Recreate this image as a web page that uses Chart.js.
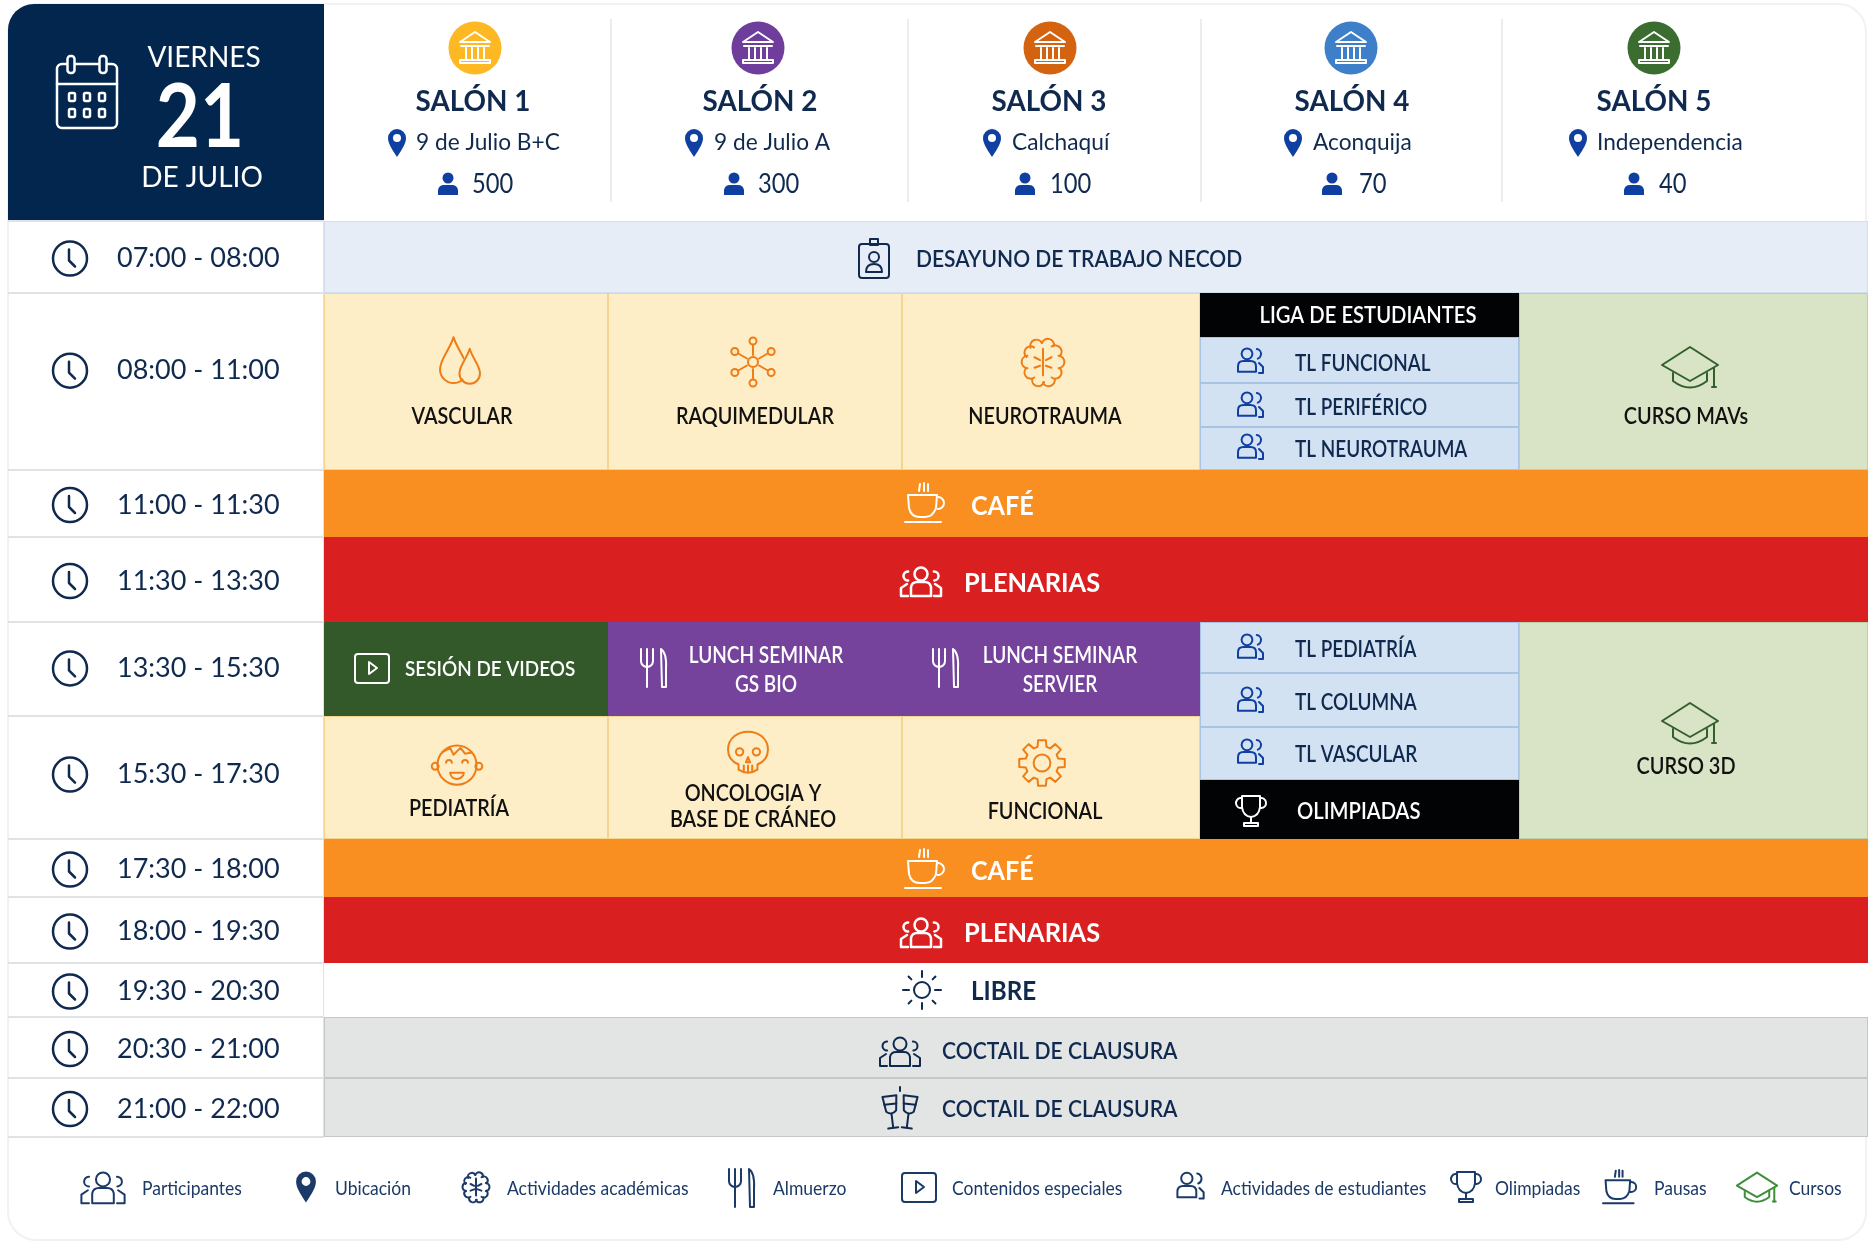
<!DOCTYPE html>
<html lang="es">
<head>
<meta charset="utf-8">
<title>Viernes 21 de julio</title>
<script src="https://cdn.jsdelivr.net/npm/chart.js@4/dist/chart.umd.js"></script>
<style>
  html, body { margin: 0; background: #fff; }
  canvas { display: block; }
</style>
</head>
<body>
<canvas id="agenda" width="1868" height="1241"></canvas>
<script>
// Rooms and time rows
const rooms = ['SALÓN 1', 'SALÓN 2', 'SALÓN 3', 'SALÓN 4', 'SALÓN 5'];
const roomPlaces = ['9 de Julio B+C', '9 de Julio A', 'Calchaquí', 'Aconquija', 'Independencia'];
const roomCapacity = [500, 300, 100, 70, 40];
const rowTimes = ['07:00 - 08:00', '08:00 - 11:00', '11:00 - 11:30', '11:30 - 13:30', '13:30 - 15:30', '15:30 - 17:30',
  '17:30 - 18:00', '18:00 - 19:30', '19:30 - 20:30', '20:30 - 21:00', '21:00 - 22:00'];
const rowSlots = [0, 1, 5, 6, 7, 9, 12, 13, 14, 15, 16, 17];
const rowLabelSlots = [0.5, 2.7, 5.5, 6.5, 7.88, 10.87, 12.5, 13.5, 14.5, 15.5, 16.5];

// Schedule blocks, one entry per block: room span and slot span
const cellNames = ['DESAYUNO DE TRABAJO NECOD', 'VASCULAR', 'RAQUIMEDULAR', 'NEUROTRAUMA', 'LIGA DE ESTUDIANTES',
  'TL FUNCIONAL', 'TL PERIFÉRICO', 'TL NEUROTRAUMA', 'CURSO MAVs', 'CAFÉ', 'PLENARIAS', 'SESIÓN DE VIDEOS',
  'LUNCH SEMINAR\nGS BIO', 'LUNCH SEMINAR\nSERVIER', 'TL PEDIATRÍA', 'TL COLUMNA', 'TL VASCULAR', 'OLIMPIADAS',
  'CURSO 3D', 'PEDIATRÍA', 'ONCOLOGIA Y\nBASE DE CRÁNEO', 'FUNCIONAL', 'CAFÉ', 'PLENARIAS', 'LIBRE',
  'COCTAIL DE CLAUSURA', 'COCTAIL DE CLAUSURA'];
const cellRooms = [[0, 5], [0, 1], [1, 2], [2, 3], [3, 4], [3, 4], [3, 4], [3, 4], [4, 5], [0, 5], [0, 5], [0, 1],
  [1, 2], [2, 3], [3, 4], [3, 4], [3, 4], [3, 4], [4, 5], [0, 1], [1, 2], [2, 3], [0, 5], [0, 5], [0, 5], [0, 5], [0, 5]];
const cellSlots = [[0, 1], [1, 5], [1, 5], [1, 5], [1, 2], [2, 3], [3, 4], [4, 5], [1, 5], [5, 6], [6, 7], [7, 9],
  [7, 9], [7, 9], [7, 8], [8, 10], [10, 11], [11, 12], [7, 12], [9, 12], [9, 12], [9, 12], [12, 13], [13, 14],
  [14, 15], [15, 16], [16, 17]];
const cellKinds = ['breakfast', 'academic', 'academic', 'academic', 'black', 'student', 'student', 'student', 'course',
  'coffee', 'plenary', 'video', 'lunch', 'lunch', 'student', 'student', 'student', 'black', 'course', 'academic',
  'academic', 'academic', 'coffee', 'plenary', 'free', 'closing', 'closing'];

const legendLabels = ['Participantes', 'Ubicación', 'Actividades académicas', 'Almuerzo', 'Contenidos especiales',
  'Actividades de estudiantes', 'Olimpiadas', 'Pausas', 'Cursos'];

// Look of each kind of block
const NAVY = '#10294f';
const BLUE = '#0f3fa0';
const kindStyle = {
  breakfast: { fill: '#e6edf7', line: '#d3deee', text: NAVY, font: '600 23px Lato', squeeze: 0.913 },
  academic: { fill: '#fdeec8', line: '#f5d48f', text: '#111', font: '600 23px Lato', squeeze: 0.86 },
  black: { fill: '#020304', line: '#020304', text: '#fff', font: '600 22px Lato', squeeze: 0.92 },
  student: { fill: '#d3e2f2', line: '#a9c4e2', text: NAVY, font: '600 22px Lato', squeeze: 0.86 },
  course: { fill: '#d9e3c6', line: '#bfd0a8', text: '#111', font: '600 23px Lato', squeeze: 0.865 },
  coffee: { fill: '#fa8f21', line: '#fa8f21', text: '#fff', font: '700 27px Lato', squeeze: 0.93 },
  plenary: { fill: '#d91f1f', line: '#d91f1f', text: '#fff', font: '700 27px Lato', squeeze: 0.94 },
  video: { fill: '#33582a', line: '#33582a', text: '#fff', font: '600 21px Lato', squeeze: 0.9 },
  lunch: { fill: '#75439c', line: '#75439c', text: '#fff', font: '600 22px Lato', squeeze: 0.865 },
  free: { fill: '#ffffff', line: '#ffffff', text: NAVY, font: '700 26px Lato', squeeze: 0.93 },
  closing: { fill: '#e3e4e4', line: '#c6c7c7', text: NAVY, font: '600 23px Lato', squeeze: 0.917 }
};

// Where icon and text sit inside each block (same order as cellNames)
const cellLayout = [
  { icon: 'badge', ix: 874, iy: 259, tx: 916, ty: 258.5, align: 'left', color: NAVY },
  { icon: 'drops', ix: 460, iy: 362, tx: 462, ty: 415, size: 1.08 },
  { icon: 'atom', ix: 753, iy: 362, tx: 755, ty: 415 },
  { icon: 'brain', ix: 1043, iy: 362, tx: 1045, ty: 415, size: 0.95 },
  { tx: 1368, ty: 314 },
  { icon: 'pair', ix: 1250, iy: 362, tx: 1295, ty: 362.5, align: 'left', color: BLUE },
  { icon: 'pair', ix: 1250, iy: 406, tx: 1295, ty: 406.5, align: 'left', color: BLUE },
  { icon: 'pair', ix: 1250, iy: 448, tx: 1295, ty: 448.5, align: 'left', color: BLUE },
  { icon: 'cap', ix: 1690, iy: 367, tx: 1686, ty: 415, color: '#32602c' },
  { icon: 'coffee', ix: 925, iy: 503, tx: 971, ty: 505, align: 'left', color: '#fff' },
  { icon: 'group', ix: 921, iy: 581, tx: 964, ty: 582, align: 'left', color: '#fff', weight: 2.5 },
  { icon: 'play', ix: 372, iy: 668, tx: 405, ty: 668, align: 'left', color: '#fff' },
  { icon: 'cutlery', ix: 653, iy: 667, tx: 766, ty: 654, color: '#fff' },
  { icon: 'cutlery', ix: 945, iy: 667, tx: 1060, ty: 654, color: '#fff' },
  { icon: 'pair', ix: 1250, iy: 648, tx: 1295, ty: 648.5, align: 'left', color: BLUE },
  { icon: 'pair', ix: 1250, iy: 701, tx: 1295, ty: 701, align: 'left', color: BLUE },
  { icon: 'pair', ix: 1250, iy: 753, tx: 1295, ty: 753.5, align: 'left', color: BLUE },
  { icon: 'trophy', ix: 1251, iy: 811, tx: 1297, ty: 810, align: 'left', color: '#fff' },
  { icon: 'cap', ix: 1690, iy: 723, tx: 1686, ty: 765, color: '#32602c' },
  { icon: 'baby', ix: 457, iy: 764, tx: 459, ty: 807, size: 1.15 },
  { icon: 'skull', ix: 748, iy: 755, tx: 753, ty: 792, leading: 26, size: 1.05 },
  { icon: 'gear', ix: 1042, iy: 763, tx: 1045, ty: 810, size: 1.05 },
  { icon: 'coffee', ix: 925, iy: 869, tx: 971, ty: 869.5, align: 'left', color: '#fff' },
  { icon: 'group', ix: 921, iy: 932, tx: 964, ty: 932, align: 'left', color: '#fff', weight: 2.5 },
  { icon: 'sun', ix: 922, iy: 990, tx: 971, ty: 990, align: 'left', color: NAVY },
  { icon: 'group', ix: 900, iy: 1051, tx: 942, ty: 1050.5, align: 'left', color: NAVY },
  { icon: 'toast', ix: 900, iy: 1109, tx: 942, ty: 1108.5, align: 'left', color: NAVY }
];

// Header and legend placement
const roomCircleColors = ['#fdb823', '#6f3d9b', '#d4630f', '#3d7fc9', '#3a6d2f'];
const roomCenters = [475, 758, 1050, 1351, 1654];
const roomTitleX = [473, 760, 1049, 1352, 1654];
const roomPinX = [397, 694, 992, 1293, 1578];
const roomPlaceX = [416, 714, 1012, 1313, 1597];
const roomPersonX = [448, 734, 1025, 1332, 1634];
const roomCountX = [472, 758, 1050, 1359, 1659];
const roomDividers = [611, 908, 1201, 1502];
const legendIcons = ['group', 'pin', 'brain', 'cutlery', 'play', 'pair', 'trophy', 'coffee', 'cap'];
const legendIconSize = [1.08, 1.1, 0.6, 1, 1, 1.05, 1, 0.85, 0.72];
const legendIconX = [103, 306, 476, 741, 919, 1190, 1466, 1620, 1757];
const legendTextX = [142, 335, 507, 773, 952, 1221, 1495, 1654, 1789];

// Little line icons, all drawn around 0,0 in a box of about 40 units
function ring(c, x, y, r) { c.beginPath(); c.arc(x, y, r, 0, Math.PI * 2); c.stroke(); }
function poly(c, pts, close) {
  c.beginPath();
  pts.forEach((p, i) => i ? c.lineTo(p[0], p[1]) : c.moveTo(p[0], p[1]));
  if (close) c.closePath();
  c.stroke();
}
function bust(c, x, y, s) {
  ring(c, x, y - 8 * s, 6 * s);
  c.beginPath();
  c.moveTo(x - 10 * s, y + 12 * s);
  c.lineTo(x - 10 * s, y + 6 * s);
  c.quadraticCurveTo(x - 10 * s, y, x - 4 * s, y);
  c.lineTo(x + 4 * s, y);
  c.quadraticCurveTo(x + 10 * s, y, x + 10 * s, y + 6 * s);
  c.lineTo(x + 10 * s, y + 12 * s);
  c.closePath();
  c.stroke();
}
const icons = {
  clock(c) { ring(c, 0, 0, 17); poly(c, [[-1, -9], [-1, 2], [5, 8]]); },
  bank(c) {
    poly(c, [[-15, -6], [0, -16], [15, -6]], true);
    poly(c, [[-14, -2], [14, -2]]);
    [-9, -3, 3, 9].forEach(x => poly(c, [[x, 0], [x, 11]]));
    c.strokeRect(-15, 12, 30, 3);
  },
  pin(c) {
    c.beginPath();
    c.moveTo(0, 14);
    c.bezierCurveTo(-6, 5, -9, 0, -9, -5);
    c.arc(0, -5, 9, Math.PI, 0);
    c.bezierCurveTo(9, 0, 6, 5, 0, 14);
    c.closePath();
    c.arc(0, -5, 4, 0, Math.PI * 2, true);
    c.fill('evenodd');
  },
  person(c) {
    c.beginPath();
    c.arc(0, -6, 5.5, 0, Math.PI * 2);
    c.fill();
    c.beginPath();
    c.moveTo(-10, 11);
    c.lineTo(-10, 6);
    c.quadraticCurveTo(-9, 1, -4, 1);
    c.lineTo(4, 1);
    c.quadraticCurveTo(9, 1, 10, 6);
    c.lineTo(10, 11);
    c.closePath();
    c.fill();
  },
  calendar(c) {
    c.beginPath();
    c.roundRect(-30, -28, 60, 64, 5);
    c.stroke();
    poly(c, [[-30, -8], [30, -8]]);
    [-16, 16].forEach(x => {
      c.beginPath();
      c.roundRect(x - 3.5, -36, 7, 17, 3);
      c.fillStyle = '#03264f';
      c.fill();
      c.stroke();
    });
    [-15, 0, 15].forEach(x => [5, 21].forEach(y => {
      c.beginPath();
      c.roundRect(x - 3, y - 4, 6, 8, 1.5);
      c.stroke();
    }));
  },
  drops(c) {
    const drop = (x, y, s) => {
      c.beginPath();
      c.moveTo(x, y - 16 * s);
      c.bezierCurveTo(x + 3 * s, y - 6 * s, x + 10 * s, y, x + 10 * s, y + 8 * s);
      c.arc(x, y + 8 * s, 10 * s, 0, Math.PI);
      c.bezierCurveTo(x - 10 * s, y, x - 3 * s, y - 6 * s, x, y - 16 * s);
      c.stroke();
    };
    drop(-6, -3, 1.25);
    c.save();
    c.fillStyle = '#fdeec8';
    c.beginPath();
    c.moveTo(9, -14);
    c.bezierCurveTo(11, -7, 17, -1, 17, 8);
    c.arc(9, 10, 8.5, 0, Math.PI);
    c.bezierCurveTo(0, -1, 7, -7, 9, -14);
    c.fill();
    c.restore();
    drop(9, 3, 0.95);
  },
  atom(c) {
    ring(c, 0, 0, 5);
    for (let i = 0; i < 6; i++) {
      const a = i * Math.PI / 3 - Math.PI / 2;
      ring(c, Math.cos(a) * 21, Math.sin(a) * 21, 3.5);
      poly(c, [[Math.cos(a) * 7, Math.sin(a) * 7], [Math.cos(a) * 17, Math.sin(a) * 17]]);
    }
  },
  brain(c) {
    const lobes = [[-7, -17], [5, -18], [13, -11], [16, 0], [13, 11], [6, 19], [-5, 19], [-13, 11], [-16, 0], [-13, -10]];
    lobes.forEach(p => {
      c.beginPath();
      c.arc(p[0], p[1], 6.5, Math.atan2(p[1], p[0]) - 1.5, Math.atan2(p[1], p[0]) + 1.5);
      c.stroke();
    });
    poly(c, [[0, -14], [0, 14]]);
    poly(c, [[-9, -5], [-3, -2]]);
    poly(c, [[9, -5], [3, -2]]);
    poly(c, [[-9, 6], [-3, 4]]);
    poly(c, [[9, 6], [3, 4]]);
  },
  pair(c) {
    bust(c, -3, -1, 0.9);
    c.beginPath();
    c.arc(6, -8, 5, -1.4, 1.2);
    c.stroke();
    poly(c, [[9, 1], [13, 5], [13, 11], [9, 11]]);
  },
  group(c) {
    ring(c, 0, -7, 6.5);
    c.beginPath();
    c.moveTo(-10, 15);
    c.lineTo(-10, 6);
    c.quadraticCurveTo(-9, 1, -4, 1);
    c.lineTo(4, 1);
    c.quadraticCurveTo(9, 1, 10, 6);
    c.lineTo(10, 15);
    c.closePath();
    c.stroke();
    [-1, 1].forEach(d => {
      c.beginPath();
      c.arc(d * 13, -5, 4.5, d > 0 ? -1.6 : -1.5 + Math.PI - 0.1, d > 0 ? 1.5 : Math.PI + 1.6);
      c.stroke();
      poly(c, [[d * 14, 3], [d * 20, 7], [d * 20, 15], [d * 13, 15]]);
    });
  },
  cap(c) {
    poly(c, [[0, -20], [28, -2], [0, 14], [-28, -2]], true);
    c.beginPath();
    c.moveTo(-17, 6);
    c.lineTo(-17, 14);
    c.quadraticCurveTo(0, 27, 17, 14);
    c.lineTo(17, 6);
    c.stroke();
    poly(c, [[24, 1], [24, 20]]);
    poly(c, [[22, 20], [26, 20]]);
  },
  coffee(c) {
    poly(c, [[-5, -19], [-6, -12]]);
    poly(c, [[-1, -20], [-1, -12]]);
    poly(c, [[3, -19], [3, -12]]);
    c.beginPath();
    c.moveTo(-17, -8);
    c.lineTo(12, -8);
    c.lineTo(11, 5);
    c.quadraticCurveTo(8, 14, 0, 14);
    c.lineTo(-5, 14);
    c.quadraticCurveTo(-14, 14, -16, 5);
    c.closePath();
    c.stroke();
    c.beginPath();
    c.arc(13, 0, 6, -1.5, 1.7);
    c.stroke();
    poly(c, [[-20, 19], [16, 19]]);
  },
  play(c) {
    c.beginPath();
    c.roundRect(-17, -14, 34, 29, 3);
    c.stroke();
    poly(c, [[-3, -6], [5, 0], [-3, 6]], true);
  },
  cutlery(c) {
    poly(c, [[-12, -18], [-12, -6]]);
    poly(c, [[-6, -18], [-6, 20]]);
    poly(c, [[0, -18], [0, -6]]);
    c.beginPath();
    c.arc(-6, -6, 6, 0, Math.PI);
    c.stroke();
    c.beginPath();
    c.moveTo(8, -18);
    c.quadraticCurveTo(14, -14, 13, 2);
    c.lineTo(13, 20);
    c.lineTo(9, 20);
    c.closePath();
    c.stroke();
  },
  trophy(c) {
    c.beginPath();
    c.moveTo(-9, -15);
    c.lineTo(9, -15);
    c.lineTo(9, -4);
    c.quadraticCurveTo(8, 5, 0, 6);
    c.quadraticCurveTo(-8, 5, -9, -4);
    c.closePath();
    c.stroke();
    c.beginPath();
    c.arc(-10, -8, 5, 1.4, -1.4);
    c.stroke();
    c.beginPath();
    c.arc(10, -8, 5, -1.7, 1.7);
    c.stroke();
    poly(c, [[0, 6], [0, 12]]);
    c.strokeRect(-7, 12, 14, 3);
  },
  sun(c) {
    ring(c, 0, 0, 8);
    for (let i = 0; i < 8; i++) {
      const a = i * Math.PI / 4;
      const r = i % 2 ? 15 : 13;
      poly(c, [[Math.cos(a) * r, Math.sin(a) * r], [Math.cos(a) * 19, Math.sin(a) * 19]]);
    }
  },
  badge(c) {
    c.beginPath();
    c.roundRect(-15, -15, 30, 34, 3);
    c.stroke();
    c.strokeRect(-4, -20, 8, 6);
    ring(c, 0, -2, 5);
    c.beginPath();
    c.moveTo(-8, 13);
    c.quadraticCurveTo(-8, 5, 0, 5);
    c.quadraticCurveTo(8, 5, 8, 13);
    c.closePath();
    c.stroke();
  },
  toast(c) {
    [-1, 1].forEach(d => {
      c.save();
      c.rotate(d * 0.12);
      c.beginPath();
      c.moveTo(d * 9 - 7, -14);
      c.lineTo(d * 9 + 7, -14);
      c.lineTo(d * 9 + 5, 1);
      c.quadraticCurveTo(d * 9, 6, d * 9 - 5, 1);
      c.closePath();
      c.stroke();
      poly(c, [[d * 9, 4], [d * 9, 17]]);
      poly(c, [[d * 9 - 5, 18], [d * 9 + 5, 18]]);
      poly(c, [[d * 9 - 6, -6], [d * 9 + 6, -6]]);
      c.restore();
    });
    poly(c, [[0, -22], [0, -18]]);
  },
  baby(c) {
    ring(c, 0, 1, 17);
    ring(c, -19, 2, 3);
    ring(c, 19, 2, 3);
    c.beginPath();
    c.arc(0, 7, 6, 0.1, Math.PI - 0.1);
    c.closePath();
    c.stroke();
    c.beginPath();
    c.arc(-7, -1, 2.5, Math.PI, 0);
    c.stroke();
    c.beginPath();
    c.arc(7, -1, 2.5, Math.PI, 0);
    c.stroke();
    poly(c, [[-13, -10], [-6, -14], [-3, -8], [3, -14], [7, -9], [13, -10]]);
  },
  skull(c) {
    c.beginPath();
    c.moveTo(-9, 14);
    c.lineTo(-9, 9);
    c.quadraticCurveTo(-19, 5, -19, -5);
    c.bezierCurveTo(-19, -28, 19, -28, 19, -5);
    c.quadraticCurveTo(19, 5, 9, 9);
    c.lineTo(9, 14);
    c.quadraticCurveTo(0, 20, -9, 14);
    c.closePath();
    c.stroke();
    ring(c, -8, -3, 3.5);
    ring(c, 8, -3, 3.5);
    poly(c, [[0, 2], [-2, 7], [2, 7]], true);
    [-4, 0, 4].forEach(x => poly(c, [[x, 10], [x, 16]]));
  },
  gear(c) {
    ring(c, 0, 0, 8);
    c.beginPath();
    for (let i = 0; i < 8; i++) {
      const a = i * Math.PI / 4;
      [[-0.27, 16], [-0.17, 22], [0.17, 22], [0.27, 16]].forEach((p, j) => {
        const x = Math.cos(a + p[0]) * p[1];
        const y = Math.sin(a + p[0]) * p[1];
        (i === 0 && j === 0) ? c.moveTo(x, y) : c.lineTo(x, y);
      });
    }
    c.closePath();
    c.stroke();
  }
};

function drawIcon(c, name, x, y, color, lineWidth, scale) {
  c.save();
  c.translate(x, y);
  c.scale(scale || 1, scale || 1);
  c.strokeStyle = color;
  c.fillStyle = color;
  c.lineWidth = (lineWidth || 2) / (scale || 1);
  c.lineJoin = 'round';
  c.lineCap = 'round';
  icons[name](c);
  c.restore();
}

// Lato runs wider than the lettering here, so text can be narrowed a little
function drawText(c, text, x, y, font, color, align, squeeze) {
  c.save();
  c.translate(x, y + 1.5);
  c.scale(squeeze || 1, 1);
  c.font = font;
  c.fillStyle = color;
  c.textAlign = align || 'center';
  c.textBaseline = 'middle';
  c.fillText(text, 0, 0);
  c.restore();
}

// Scale with bands of unequal size, each unit of value crosses one band
class BandScale extends Chart.Scale {
  static id = 'band';
  static defaults = {};
  determineDataLimits() {
    this.min = 0;
    this.max = this.options.bands.length;
  }
  buildTicks() {
    return (this.options.tickValues || []).map(value => ({ value }));
  }
  getPixelForValue(value) {
    const bands = this.options.bands;
    const total = bands.reduce((a, b) => a + b, 0);
    const start = this.isHorizontal() ? this.left : this.top;
    const length = this.isHorizontal() ? this.width : this.height;
    let sum = 0;
    const whole = Math.min(Math.floor(value), bands.length);
    for (let i = 0; i < whole; i++) sum += bands[i];
    if (whole < bands.length) sum += (value - whole) * bands[whole];
    return start + sum / total * length;
  }
  getValueForPixel() {
    return 0;
  }
}

// Bars spanning both axes: a room range and a slot range
class BlockController extends Chart.BarController {
  static id = 'block';
  updateElements(bars, start, count, mode) {
    const meta = this._cachedMeta;
    const data = this.getDataset().data;
    for (let i = start; i < start + count; i++) {
      const left = meta.xScale.getPixelForValue(data[i].x[0]);
      const right = meta.xScale.getPixelForValue(data[i].x[1]);
      const top = meta.yScale.getPixelForValue(data[i].y[0]);
      const bottom = meta.yScale.getPixelForValue(data[i].y[1]);
      this.updateElement(bars[i], i, {
        horizontal: false,
        x: (left + right) / 2,
        y: top,
        base: bottom,
        width: right - left,
        height: bottom - top,
        inflateAmount: 0,
        enableBorderRadius: false,
        borderSkipped: { top: false, bottom: false, left: false, right: false },
        options: this.resolveDataElementOptions(i, mode)
      }, mode);
    }
  }
}

Chart.register(BandScale, BlockController);

// Card, date panel, room header and row rules go under the bars
const backdropPlugin = {
  id: 'backdrop',
  beforeDraw(chart) {
    const c = chart.ctx;
    const y = chart.scales.y;
    c.save();
    c.fillStyle = '#fff';
    c.fillRect(0, 0, 1868, 1241);
    c.strokeStyle = '#f1f2f4';
    c.lineWidth = 2;
    c.beginPath();
    c.roundRect(8, 4, 1858, 1236, 28);
    c.stroke();

    c.fillStyle = '#03264f';
    c.beginPath();
    c.roundRect(8, 4, 316, 217, [26, 0, 0, 0]);
    c.fill();
    drawIcon(c, 'calendar', 87, 92, '#fff', 2.5);
    drawText(c, 'VIERNES', 204, 56, '400 28px Lato', '#fff');
    drawText(c, '21', 200, 117, '700 88px Lato', '#fff', 'center', 0.865);
    drawText(c, 'DE JULIO', 202, 176, '400 28px Lato', '#fff');

    rooms.forEach((room, i) => {
      c.fillStyle = roomCircleColors[i];
      c.beginPath();
      c.arc(roomCenters[i], 48, 26.5, 0, Math.PI * 2);
      c.fill();
      drawIcon(c, 'bank', roomCenters[i], 48, '#fff', 2);
      drawText(c, room, roomTitleX[i], 100, '700 29px Lato', NAVY, 'center', 0.96);
      drawIcon(c, 'pin', roomPinX[i], 143, BLUE, 1);
      drawText(c, roomPlaces[i], roomPlaceX[i], 141, '400 24px Lato', NAVY, 'left', 0.945);
      drawIcon(c, 'person', roomPersonX[i], 184, BLUE, 1);
      drawText(c, String(roomCapacity[i]), roomCountX[i], 183, '400 27px Lato', NAVY, 'left', 0.88);
    });
    c.strokeStyle = '#e4e6e9';
    c.lineWidth = 1.5;
    roomDividers.forEach(x => poly(c, [[x, 19], [x, 202]]));

    c.strokeStyle = '#e0e2e5';
    c.lineWidth = 2;
    rowSlots.forEach(s => {
      const py = y.getPixelForValue(s);
      poly(c, [[8, py], [324, py]]);
    });
    poly(c, [[324, 221], [324, 1137]]);
    c.restore();
  },
  afterDatasetsDraw(chart) {
    const c = chart.ctx;
    const y = chart.scales.y;
    c.save();
    rowTimes.forEach((t, i) => drawIcon(c, 'clock', 70, y.getPixelForTick(i) + 1.5, NAVY, 2.5));
    cellNames.forEach((name, i) => {
      const style = kindStyle[cellKinds[i]];
      const spot = cellLayout[i];
      if (spot.icon) drawIcon(c, spot.icon, spot.ix, spot.iy, spot.color || '#ee7d16', spot.weight || 2, spot.size);
      name.split('\n').forEach((line, n) => {
        const lead = spot.leading || 29;
        drawText(c, line, spot.tx, spot.ty + n * lead, style.font, style.text, spot.align, style.squeeze);
      });
    });
    legendLabels.forEach((label, i) => {
      const color = legendIcons[i] === 'cap' ? '#3f8f3a' : '#1b3a68';
      drawIcon(c, legendIcons[i], legendIconX[i], 1187, color, 2, legendIconSize[i]);
      drawText(c, label, legendTextX[i], 1187, '400 20px Lato', '#1b3a68', 'left', 0.875);
    });
    c.restore();
  }
};

new Chart(document.getElementById('agenda'), {
  type: 'block',
  data: {
    datasets: [{
      data: cellNames.map((n, i) => ({ x: cellRooms[i], y: cellSlots[i] })),
      parsing: false,
      backgroundColor: cellKinds.map(k => kindStyle[k].fill),
      borderColor: cellKinds.map(k => kindStyle[k].line),
      borderWidth: 1,
      borderSkipped: false
    }]
  },
  options: {
    responsive: false,
    animation: false,
    devicePixelRatio: 1,
    layout: { padding: { left: 117, top: 221, right: 0, bottom: 104 } },
    plugins: { legend: { display: false }, tooltip: { enabled: false } },
    scales: {
      x: {
        type: 'band',
        display: false,
        bands: [284, 294, 298, 319, 349]
      },
      y: {
        type: 'band',
        position: 'left',
        bands: [72, 44, 46, 44, 43, 67, 85, 51, 43, 11, 53, 59, 58, 66, 54, 61, 59],
        tickValues: rowLabelSlots,
        afterFit(scale) { scale.width = 207; },
        grid: { display: false, drawTicks: false },
        border: { display: false },
        ticks: {
          autoSkip: false,
          crossAlign: 'far',
          padding: 0,
          maxRotation: 0,
          labelOffset: 1.5,
          font: { family: 'Lato', size: 27 },
          color: NAVY,
          callback: (value, i) => rowTimes[i]
        }
      }
    }
  },
  plugins: [backdropPlugin]
});
</script>
</body>
</html>
